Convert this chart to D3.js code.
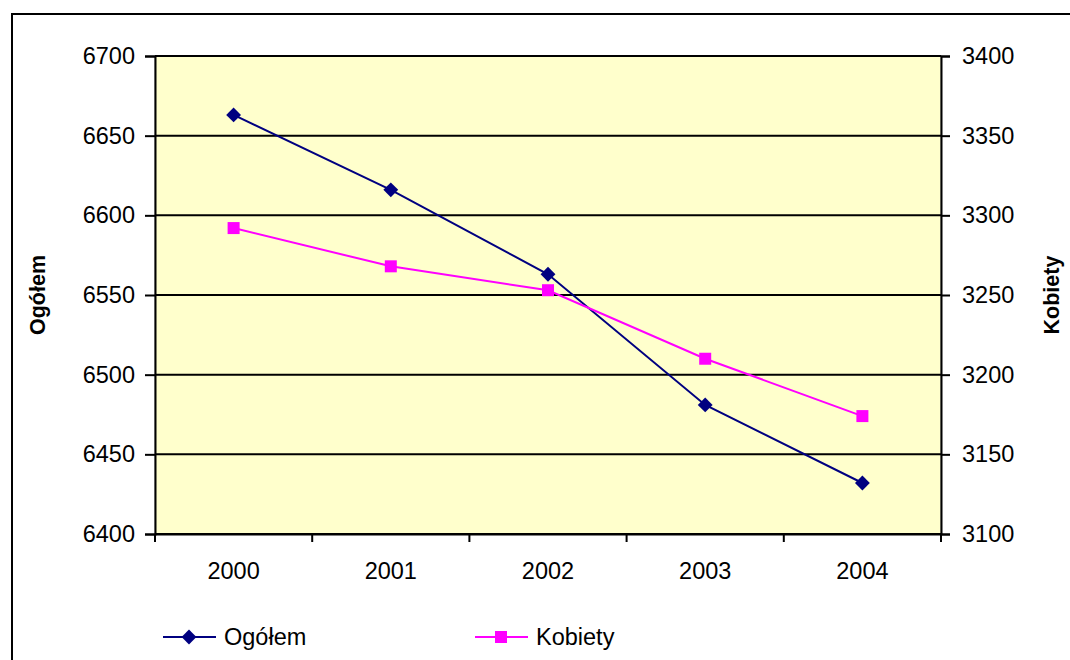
<!DOCTYPE html>
<html><head><meta charset="utf-8">
<script src="https://cdn.jsdelivr.net/npm/d3@7"></script>
<style>body{margin:0;background:#fff}svg{display:block;font-family:"Liberation Sans",Arial,sans-serif}</style>
</head><body>
<svg id="c" width="1070" height="660"></svg>
<script>
const years = ["2000","2001","2002","2003","2004"];
const ogolem = [6663, 6616, 6563, 6481, 6432];
const kobiety = [3292, 3268, 3253, 3210, 3174];
const leftTicks = [6400,6450,6500,6550,6600,6650,6700];
const rightTicks = [3100,3150,3200,3250,3300,3350,3400];

const svg = d3.select("#c");
const L=155, R=941, T=56, B=534;
const x = d3.scaleBand().domain(years).range([L,R]);
const yL = d3.scaleLinear().domain([6400,6700]).range([B,T]);
const yR = d3.scaleLinear().domain([3100,3400]).range([B,T]);

// outer border
svg.append("rect").attr("x",12).attr("y",14).attr("width",1080).attr("height",700)
  .attr("fill","none").attr("stroke","#000").attr("stroke-width",2);

svg.append("rect").attr("x",L).attr("y",T).attr("width",R-L).attr("height",B-T)
  .attr("fill","#FFFFCC").attr("stroke","#808080").attr("stroke-width",1);

// gridlines
svg.append("g").selectAll("line").data(leftTicks).join("line")
  .attr("x1",L).attr("x2",R).attr("y1",d=>yL(d)).attr("y2",d=>yL(d))
  .attr("stroke","#000").attr("stroke-width",2);

const fs = "23.5px";
const gl = svg.append("g").attr("transform",`translate(${L},0)`)
  .call(d3.axisLeft(yL).tickValues(leftTicks).tickSize(10).tickPadding(10).tickFormat(d3.format("d")));
const gr = svg.append("g").attr("transform",`translate(${R},0)`)
  .call(d3.axisRight(yR).tickValues(rightTicks).tickSize(9).tickPadding(12).tickFormat(d3.format("d")));
const gx = svg.append("g").attr("transform",`translate(0,${B})`)
  .call(d3.axisBottom(x).tickSize(0).tickPadding(28));
// category boundary ticks
svg.append("g").selectAll("line").data(years.concat(["end"])).join("line")
  .attr("x1",(d,i)=>L+i*x.bandwidth()).attr("x2",(d,i)=>L+i*x.bandwidth())
  .attr("y1",B).attr("y2",B+8).attr("stroke","#000").attr("stroke-width",2);
[gl,gr,gx].forEach(g=>{
  g.selectAll("path.domain").attr("stroke","#000").attr("stroke-width",2);
  g.selectAll(".tick line").attr("stroke","#000").attr("stroke-width",2);
  g.selectAll("text").attr("font-size",fs).attr("fill","#000").attr("font-family","Liberation Sans, Arial, sans-serif");
});

// axis titles
svg.append("text").attr("transform","translate(45,295) rotate(-90)").attr("text-anchor","middle")
  .attr("font-size","21.5px").attr("font-weight","bold").text("Ogółem");
svg.append("text").attr("transform","translate(1059,295) rotate(-90)").attr("text-anchor","middle")
  .attr("font-size","21.5px").attr("font-weight","bold").text("Kobiety");

const cx = d=>x(d)+x.bandwidth()/2;
const navy="#000080", mag="#FF00FF";
const lineL = d3.line().x((d,i)=>cx(years[i])).y(d=>yL(d));
const lineR = d3.line().x((d,i)=>cx(years[i])).y(d=>yR(d));
svg.append("path").attr("d",lineL(ogolem)).attr("fill","none").attr("stroke",navy).attr("stroke-width",2);
svg.append("path").attr("d",lineR(kobiety)).attr("fill","none").attr("stroke",mag).attr("stroke-width",2);
const diamond = d3.symbol().type(d3.symbolSquare).size(110);
svg.append("g").selectAll("path").data(ogolem).join("path")
  .attr("d",diamond).attr("fill",navy)
  .attr("transform",(d,i)=>`translate(${cx(years[i])},${yL(d)}) rotate(45)`);
svg.append("g").selectAll("rect").data(kobiety).join("rect")
  .attr("x",(d,i)=>cx(years[i])-6).attr("y",d=>yR(d)-6).attr("width",12).attr("height",12).attr("fill",mag);

// legend
const leg = [{name:"Ogółem",c:navy,x0:163,t:"d"},{name:"Kobiety",c:mag,x0:475,t:"s"}];
leg.forEach(l=>{
  const g=svg.append("g");
  g.append("line").attr("x1",l.x0).attr("x2",l.x0+53).attr("y1",637).attr("y2",637).attr("stroke",l.c).attr("stroke-width",2);
  if(l.t==="d") g.append("path").attr("d",diamond).attr("fill",l.c).attr("transform",`translate(${l.x0+26},637) rotate(45)`);
  else g.append("rect").attr("x",l.x0+20).attr("y",631).attr("width",12).attr("height",12).attr("fill",l.c);
  g.append("text").attr("x",l.x0+61).attr("y",645).attr("font-size",fs).text(l.name);
});
</script>
</body></html>
